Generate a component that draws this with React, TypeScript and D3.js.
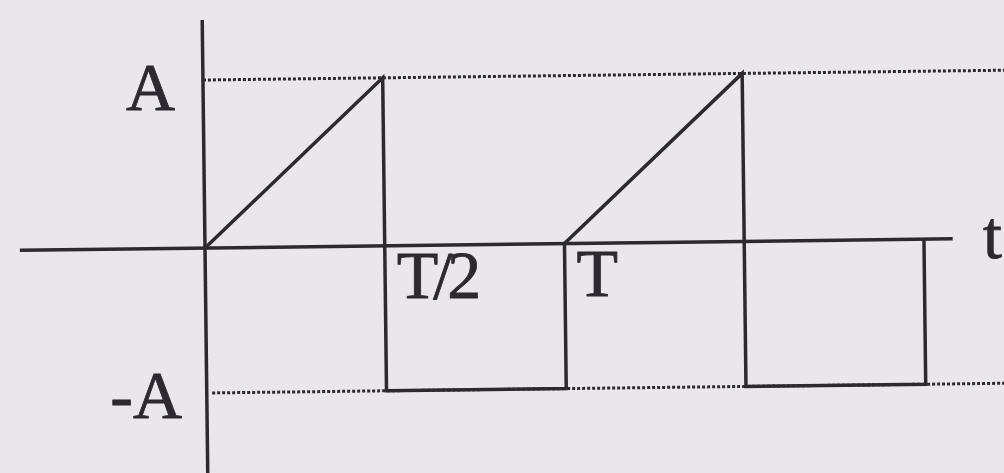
import * as d3 from 'd3'

const W = 1004, H = 473

// waveform corners, t in units of T, v in units of A
const waveT = [0, 0.5, 0.5, 1, 1, 1.5, 1.5, 2, 2]
const waveV = [0, 1, -1, -1, 0, 1, -1, -1, 0]

// reference levels drawn dotted
const levelV = [1, -1]
const levelStart = [0, 0.015]

// labels on the time axis
const tickT = [0.5, 1]
const tickLabels = ['T/2', 'T']

const ink = '#2c2a30'
const bg = '#e9e6ec'
const font = '"Liberation Serif", "DejaVu Serif", serif'

export default function App() {
  const x = d3.scaleLinear().domain([0, 2]).range([205, 924])
  // scan is not symmetric: the A level sits farther from the axis than -A
  const y = d3.scaleLinear().domain([-1, 0, 1]).range([393, 248, 80])

  const pts: [number, number][] = waveT.map((t, i) => [x(t), y(waveV[i])])
  const line = d3.line()

  // the scanned page is turned a little
  const tilt = `rotate(-0.7, ${x(0)}, ${y(0)})`

  return (
    <svg width={W} height={H} style={{ position: 'fixed', left: 0, top: 0 }}>
      <rect width={W} height={H} fill={bg} />
      <g transform={tilt}>
        {levelV.map((v, i) => (
          <line key={v} x1={x(levelStart[i])} x2={x(2.3)} y1={y(v)} y2={y(v)}
            stroke={ink} strokeWidth={3} strokeDasharray="3 2" />
        ))}
        {/* time axis */}
        <line x1={x(-0.515)} x2={x(2.08)} y1={y(0)} y2={y(0)} stroke={ink} strokeWidth={3.5} />
        {/* value axis */}
        <line x1={x(0)} x2={x(0)} y1={20} y2={H + 10} stroke={ink} strokeWidth={3.5} />
        <path d={line(pts) ?? ''} fill="none" stroke={ink} strokeWidth={3.5} strokeLinejoin="miter" />
      </g>

      <g fontFamily={font} fontSize={68} fill={ink} stroke={ink} strokeWidth={0.8}>
        <text x={x(0) - 30} y={y(1) + 30} textAnchor="end">A</text>
        <text x={x(0) - 23} y={y(-1) + 25} textAnchor="end">-A</text>
        {tickT.map((t, i) => (
          <text key={t} x={x(t) + 12} y={y(0) + 52 - t * 4} letterSpacing={-5}>{tickLabels[i]}</text>
        ))}
        <text x={983} y={258}>t</text>
      </g>
    </svg>
  )
}
